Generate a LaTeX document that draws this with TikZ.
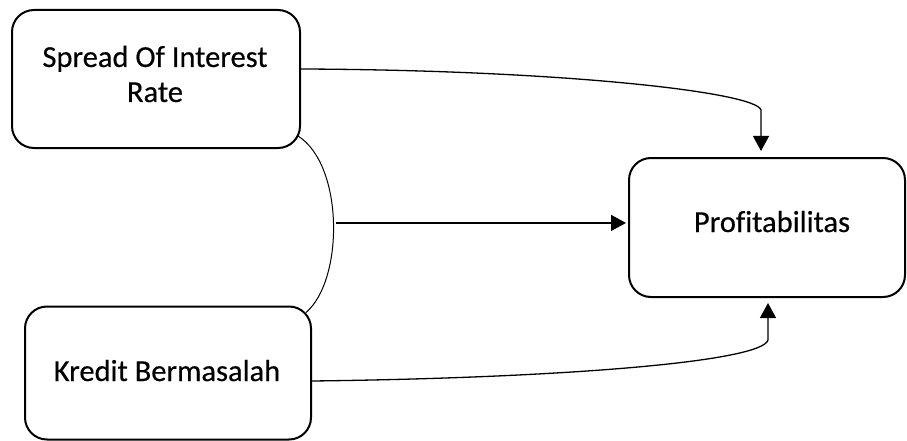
\documentclass[tikz,border=0pt]{standalone}
\usepackage{fontspec}
\setmainfont[Ligatures=NoCommon, FakeBold=0.4]{Carlito}
\usetikzlibrary{arrows.meta,calc}

\tikzset{
  varbox/.style={draw=black, line width=2pt, rounded corners=22pt, fill=white,
    inner sep=0pt},
  lbl/.style={font=\fontsize{30.5}{35}\selectfont, align=center, inner sep=0pt},
  link/.style={draw=black, line width=1.3pt},
  linkarrow/.style={link, -{Triangle[length=15pt,width=16pt]}},
  brace/.style={draw=black, line width=1pt},
}

\begin{document}
\begin{tikzpicture}[x=1pt, y=-1pt]
  \useasboundingbox (0,0) rectangle (907,441);

  % the three variable boxes
  \node[varbox, minimum width=288pt, minimum height=138pt] (spread) at (156,79) {};
  \node[varbox, minimum width=286pt, minimum height=133pt] (kredit) at (168,373) {};
  \node[varbox, minimum width=276pt, minimum height=139pt] (profit) at (767,227.5) {};

  % box captions
  \node[lbl] (spreadtext) at (155,74) {Spread Of Interest\\Rate};
  \node[lbl, anchor=base] (kredittext) at (167,381) {Kredit Bermasalah};
  \node[lbl, anchor=base] (profittext) at (772,232) {Profitabilitas};

  % named ends of the connectors
  \coordinate (spreadout) at ([yshift=10pt]spread.east);
  \coordinate (kreditout) at ([yshift=-8pt]kredit.east);
  \coordinate (profittop) at ([xshift=-6pt,yshift=6pt]profit.north);
  \coordinate (profitbottom) at ([xshift=1pt,yshift=-5pt]profit.south);
  \coordinate (spreadcorner) at ([xshift=-3pt,yshift=13pt]spread.south east);
  \coordinate (kreditcorner) at ([xshift=-6pt,yshift=-7pt]kredit.north east);

  % Spread Of Interest Rate -> Profitabilitas
  \draw[linkarrow] (spreadout) .. controls (560,70) and (756,92) .. (profittop |- 0,110)
    -- (profittop);

  % Kredit Bermasalah -> Profitabilitas
  \draw[linkarrow] (kreditout) .. controls (560,378) and (762,362) .. (profitbottom |- 0,340)
    -- (profitbottom);

  % joint effect: brace joining both boxes, arrow from its midpoint
  \draw[brace] (spreadcorner) .. controls (344,165) and (344,280) .. (kreditcorner)
    coordinate[pos=0.5] (joint);
  \draw[linkarrow] ([xshift=2pt]joint) -- ([xshift=-2pt]joint -| profit.west);
\end{tikzpicture}
\end{document}
